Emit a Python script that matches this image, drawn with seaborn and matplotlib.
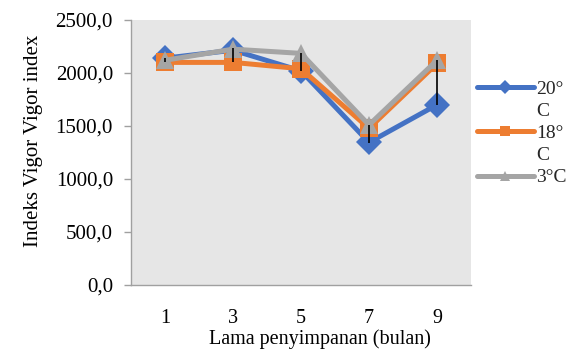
import textwrap
import numpy as np
import pandas as pd
import matplotlib
matplotlib.use("Agg")
import matplotlib.pyplot as plt
from matplotlib.lines import Line2D
import seaborn as sns

# Storage time (months) and vigor index per storage temperature
months = [1, 3, 5, 7, 9]
series_labels = ["20°C", "18°C", "3°C"]
vigor_20 = [2140, 2215, 2020, 1345, 1700]
vigor_18 = [2100, 2100, 2040, 1478, 2090]
vigor_3 = [2120, 2225, 2185, 1510, 2120]
# error bar extents for the 3°C series (below, above)
err_3_low = [20, 125, 165, 170, 420]
err_3_high = [25, 10, 0, 0, 0]
yticks = [0, 500, 1000, 1500, 2000, 2500]

colors = ["#4472C4", "#ED7D31", "#A5A5A5"]
markers = ["D", "s", "^"]

df = pd.DataFrame({
    "bulan": months * 3,
    "vigor": vigor_20 + vigor_18 + vigor_3,
    "suhu": [s for s in series_labels for _ in months],
})

sns.set_theme(style="white")
plt.rcParams["font.family"] = ["Liberation Serif", "DejaVu Serif"]

fig = plt.figure(figsize=(5.76, 3.49), dpi=100)
ax = fig.add_axes([0.2274, 0.1834, 0.5903, 0.7593])
ax.set_facecolor("#E6E6E6")

sns.lineplot(
    data=df, x="bulan", y="vigor", hue="suhu", style="suhu",
    hue_order=series_labels, style_order=series_labels,
    palette=dict(zip(series_labels, colors)),
    markers=dict(zip(series_labels, markers)),
    dashes=False, linewidth=3.6, markersize=13.5, markeredgewidth=0,
    legend=False, ax=ax,
)

ax.errorbar(months, vigor_3, yerr=[err_3_low, err_3_high], fmt="none",
            ecolor="black", elinewidth=1.2, capsize=0, zorder=5)

ax.set_xlim(0, 10)
ax.set_ylim(0, 2500)
ax.set_xticks(months)
ax.set_xticklabels([str(m) for m in months])
ax.set_yticks(yticks)
ax.set_yticklabels([f"{v:.1f}".replace(".", ",") for v in yticks])

for side in ["top", "right"]:
    ax.spines[side].set_visible(False)
for side in ["left", "bottom"]:
    ax.spines[side].set_color("#A0A0A0")
    ax.spines[side].set_linewidth(1.0)

ax.tick_params(axis="y", direction="out", length=5, width=1.0, color="#A0A0A0",
               pad=8, labelsize=15, labelcolor="black", left=True)
ax.tick_params(axis="x", length=0, pad=17, labelsize=14.5, labelcolor="black")

ax.set_xlabel("Lama penyimpanan (bulan)", fontsize=14.5, color="black")
ax.xaxis.set_label_coords(0.556, -0.168)
ax.set_ylabel("Indeks Vigor Vigor index", fontsize=15, color="black")
ax.yaxis.set_label_coords(-0.259, 0.545)

# Legend with wrapped labels: handle on the first line of each label
handles, texts = [], []
for label, c, m in zip(series_labels, colors, markers):
    lines = textwrap.wrap(label, 3)
    handles.append(Line2D([], [], color=c, marker=m, linewidth=3.6,
                          markersize=7, markeredgewidth=0))
    texts.append(lines[0])
    for extra in lines[1:]:
        handles.append(Line2D([], [], color="none"))
        texts.append(extra)

ax.legend(handles, texts, loc="center left", bbox_to_anchor=(1.005, 0.572),
          frameon=False, fontsize=14, handlelength=2.95, handletextpad=0.1,
          labelspacing=0.23, borderaxespad=0, borderpad=0.2)

fig.savefig("out.png", dpi=100, facecolor="white")
